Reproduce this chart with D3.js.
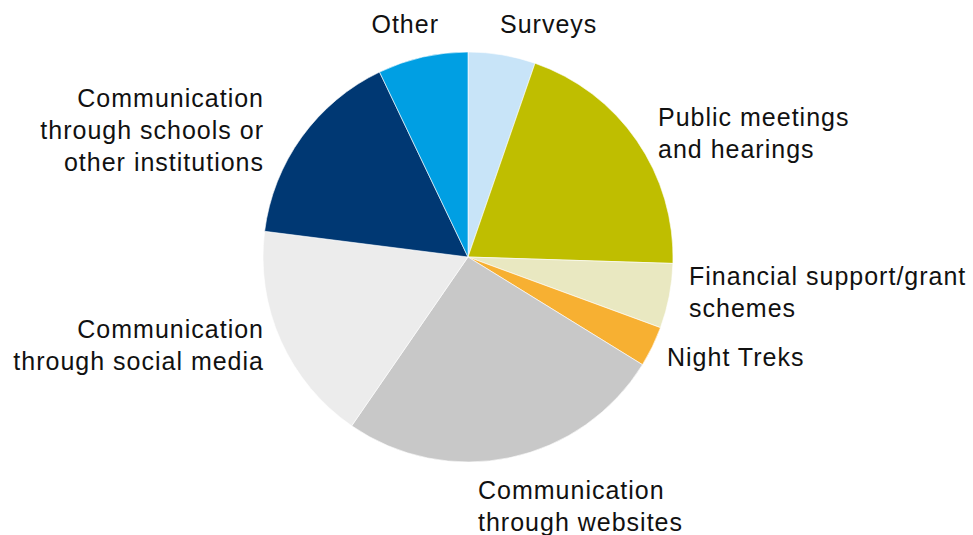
<!DOCTYPE html>
<html>
<head>
<meta charset="utf-8">
<script src="https://cdn.jsdelivr.net/npm/d3@7"></script>
<style>
  body { margin: 0; background: #fff; }
  svg text { font-family: "Liberation Sans", Helvetica, Arial, sans-serif; font-size: 25px; fill: #111; letter-spacing: 1px; }
</style>
</head>
<body>
<script>
var width = 973;
var height = 535;

// slice categories and shares (%), clockwise from 12 o'clock
var categories = ["Surveys", "Public meetings and hearings", "Financial support/grant schemes",
	"Night Treks", "Communication through websites", "Communication through social media",
	"Communication through schools or other institutions", "Other"];
var shares = [5.3, 20.2, 5.1, 3.2, 25.8, 17.4, 15.9, 7.1];
var colors = ["#c8e4f8", "#bfbe00", "#e9e8c1", "#f7b032", "#c8c8c8", "#ececec", "#003873", "#009fe3"];

// label lines as drawn in the picture
var labelLines = [
	["Surveys"],
	["Public meetings", "and hearings"],
	["Financial support/grant", "schemes"],
	["Night Treks"],
	["Communication", "through websites"],
	["Communication", "through social media"],
	["Communication", "through schools or", "other institutions"],
	["Other"]
];
// label placement: x, first baseline, anchor
var labelPos = [
	[500, 33, "start"],
	[658, 126, "start"],
	[689, 285, "start"],
	[667, 366, "start"],
	[478, 499, "start"],
	[264, 338, "end"],
	[264, 107, "end"],
	[439, 33, "end"]
];
var lineHeight = 32;

var cx = 468, cy = 257, radius = 205;

var svg = d3.select("body").append("svg")
	.attr("width", width)
	.attr("height", height);

var pie = d3.pie().sort(null).value(function(d) { return d; });
var arc = d3.arc().innerRadius(0).outerRadius(radius);

var g = svg.append("g")
	.attr("transform", "translate(" + cx + "," + cy + ")");

g.selectAll("path.slice")
	.data(pie(shares))
	.enter()
	.append("path")
	.attr("class", "slice")
	.attr("d", arc)
	.attr("fill", function(d, i) { return colors[i]; })
	.attr("stroke", "#fff")
	.attr("stroke-width", 0.6);

var labels = svg.selectAll("text.label")
	.data(categories)
	.enter()
	.append("text")
	.attr("class", "label")
	.attr("text-anchor", function(d, i) { return labelPos[i][2]; });

labels.each(function(d, i) {
	var t = d3.select(this);
	labelLines[i].forEach(function(line, j) {
		t.append("tspan")
			.attr("x", labelPos[i][0])
			.attr("y", labelPos[i][1] + j * lineHeight)
			.text(line);
	});
});
</script>
</body>
</html>
